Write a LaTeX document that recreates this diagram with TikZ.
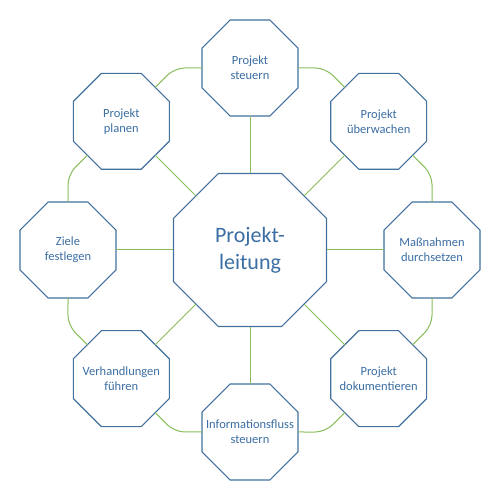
\documentclass[tikz,border=0pt]{standalone}
\usepackage{fontspec}
\setmainfont{Carlito}
\usetikzlibrary{shapes.geometric,calc}
\definecolor{octblue}{HTML}{41719C}
\definecolor{txtblue}{HTML}{3B6EA3}
\definecolor{lgreen}{HTML}{88BD5C}
\tikzset{
  octo/.style={regular polygon, regular polygon sides=8,
    draw=octblue, line width=1.1bp, fill=white, inner sep=0pt, outer sep=0pt},
  octtext/.style={text=txtblue, align=center, inner sep=0pt},
  small/.style={octo, minimum size=103.9bp,
    label={[octtext, font=\fontsize{12.5bp}{15bp}\selectfont]center:#1}},
  big/.style={octo, minimum size=165.6bp,
    label={[octtext, font=\fontsize{22bp}{27bp}\selectfont]center:#1}},
  link/.style={draw=lgreen, line width=1bp},
}
\begin{document}
\begin{tikzpicture}[x=1bp,y=1bp]
\useasboundingbox (0,0) rectangle (500,500);
\node[big={Projekt-\\leitung}] (C) at (250,250) {};
\node[small={Projekt\\steuern}] (n0) at ($(250,250)+(90:182)$) {};
\node[small={Projekt\\überwachen}] (n1) at ($(250,250)+(45:182)$) {};
\node[small={Maßnahmen\\durchsetzen}] (n2) at ($(250,250)+(0:182)$) {};
\node[small={Projekt\\dokumentieren}] (n3) at ($(250,250)+(-45:182)$) {};
\node[small={Informationsfluss\\steuern}] (n4) at ($(250,250)+(-90:182)$) {};
\node[small={Verhandlungen\\führen}] (n5) at ($(250,250)+(-135:182)$) {};
\node[small={Ziele\\festlegen}] (n6) at ($(250,250)+(180:182)$) {};
\node[small={Projekt\\planen}] (n7) at ($(250,250)+(135:182)$) {};
\foreach \i [evaluate=\i as \a using {90-45*\i}, evaluate=\i as \j using {int(mod(\i+1,8))}] in {0,...,7}{
  \draw[link] (C.\a) -- (n\i.\a+180);
  \draw[link, rounded corners=10bp] (n\i.\a-90) -- ++(\a-90:27.4) -- (n\j.\a+45);
}
\end{tikzpicture}
\end{document}
